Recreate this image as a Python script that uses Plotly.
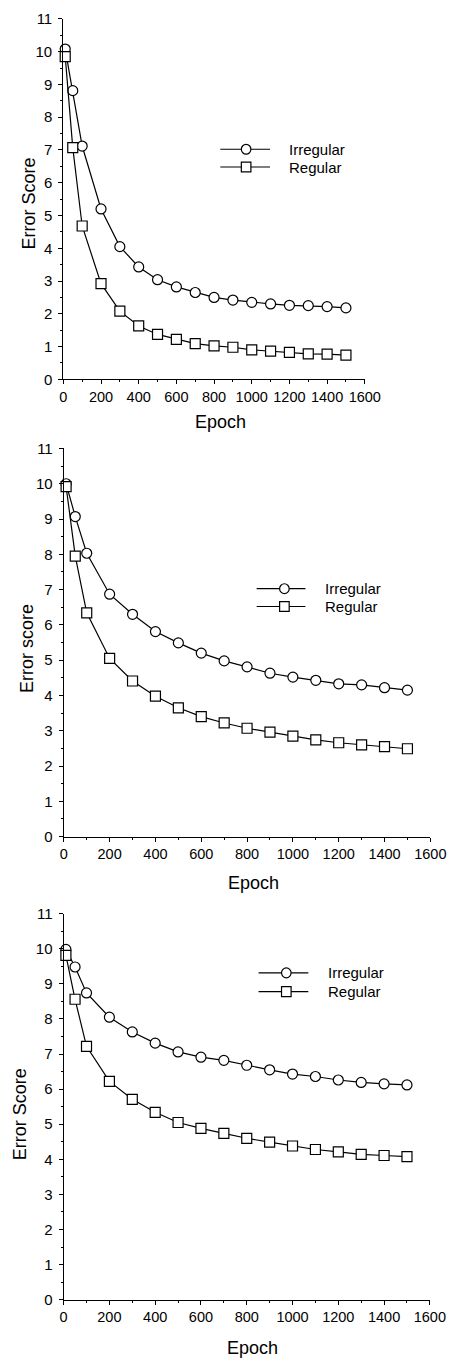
import plotly.graph_objects as go

epochs = [10, 50, 100, 200, 300, 400, 500, 600, 700, 800, 900, 1000, 1100, 1200, 1300, 1400, 1500]

p1_irregular = [10.08, 8.81, 7.12, 5.2, 4.05, 3.43, 3.04, 2.82, 2.65, 2.5, 2.42, 2.35, 2.3, 2.26, 2.25, 2.22, 2.18]
p1_regular = [9.85, 7.07, 4.68, 2.92, 2.08, 1.63, 1.37, 1.22, 1.09, 1.02, 0.98, 0.9, 0.86, 0.82, 0.78, 0.77, 0.74]

p2_irregular = [10.0, 9.07, 8.03, 6.87, 6.3, 5.81, 5.49, 5.2, 4.98, 4.81, 4.63, 4.52, 4.43, 4.33, 4.3, 4.22, 4.15]
p2_regular = [9.92, 7.95, 6.34, 5.05, 4.41, 3.98, 3.65, 3.4, 3.22, 3.07, 2.96, 2.85, 2.74, 2.66, 2.6, 2.55, 2.49]

p3_irregular = [9.98, 9.48, 8.74, 8.05, 7.63, 7.31, 7.06, 6.91, 6.82, 6.68, 6.55, 6.43, 6.36, 6.26, 6.19, 6.15, 6.12]
p3_regular = [9.81, 8.56, 7.22, 6.22, 5.71, 5.34, 5.05, 4.88, 4.74, 4.6, 4.49, 4.38, 4.28, 4.21, 4.14, 4.11, 4.08]

y_titles = ["Error Score", "Error score", "Error Score"]
x_title = "Epoch"
series_names = ["Irregular", "Regular"]

W, H = 465, 1368
FONT = "Liberation Sans, Arial, Helvetica, sans-serif"

panels = [
    dict(irr=p1_irregular, reg=p1_regular, x0=62, x1=377, top=10, bot=375,
         ytitle_xy=(26, 197), xtitle_xy=(226, 418),
         leg=dict(lx0=226, lx1=278, mx=253, tx=296, r1=142, r2=160)),
    dict(irr=p2_irregular, reg=p2_regular, x0=62.5, x1=445.5, top=445, bot=838,
         ytitle_xy=(24, 647), xtitle_xy=(261, 885),
         leg=dict(lx0=264, lx1=315, mx=293, tx=333, r1=587, r2=605)),
    dict(irr=p3_irregular, reg=p3_regular, x0=62.3, x1=445, top=916, bot=1307,
         ytitle_xy=(17, 1119), xtitle_xy=(260, 1356),
         leg=dict(lx0=266, lx1=318, mx=295, tx=336, r1=976, r2=995)),
]

fig = go.Figure()
shapes = []
annotations = []

def px(x):
    return x / W

def py(y):
    return 1 - y / H

for i, p in enumerate(panels):
    n = "" if i == 0 else str(i + 1)
    xa, ya = "x" + n, "y" + n
    for name, vals, sym in [(series_names[0], p["irr"], "circle"), (series_names[1], p["reg"], "square")]:
        fig.add_trace(go.Scatter(
            x=epochs, y=vals, mode="lines+markers", name=name, showlegend=False,
            xaxis=xa, yaxis=ya, cliponaxis=False,
            line=dict(color="black", width=1.2),
            marker=dict(symbol=sym, size=10, color="white", line=dict(color="black", width=1.2)),
        ))
    common = dict(showgrid=False, zeroline=False, showline=True, linecolor="black", linewidth=1.2,
                  ticks="outside", tickcolor="black", ticklen=4, tickwidth=1)
    fig.update_layout(**{
        "xaxis" + n: dict(common, domain=[px(p["x0"]), px(p["x1"])], range=[0, 1600],
                          dtick=200, tick0=0, anchor=ya,
                          tickfont=dict(family=FONT, size=14.5, color="black"),
                          minor=dict(dtick=100, ticklen=2, ticks="outside", tickcolor="black")),
        "yaxis" + n: dict(common, domain=[py(p["bot"]), py(p["top"])], range=[0, 11],
                          dtick=1, tick0=0, anchor=xa, ticklabelstandoff=3,
                          tickfont=dict(family=FONT, size=15, color="black"),
                          minor=dict(dtick=0.5, ticklen=2, ticks="outside", tickcolor="black")),
    })
    # axis titles
    annotations.append(dict(x=px(p["ytitle_xy"][0]), y=py(p["ytitle_xy"][1]), xref="paper", yref="paper",
                            text=y_titles[i], showarrow=False, textangle=-90,
                            font=dict(family=FONT, size=18, color="black"),
                            xanchor="center", yanchor="middle"))
    annotations.append(dict(x=px(p["xtitle_xy"][0]), y=py(p["xtitle_xy"][1]), xref="paper", yref="paper",
                            text=x_title, showarrow=False,
                            font=dict(family=FONT, size=18, color="black"),
                            xanchor="center", yanchor="middle"))
    # legend
    L = p["leg"]
    for row, kind, label in [(L["r1"], "circle", series_names[0]), (L["r2"], "rect", series_names[1])]:
        shapes.append(dict(type="line", xref="paper", yref="paper",
                           x0=px(L["lx0"]), x1=px(L["lx1"]), y0=py(row), y1=py(row),
                           line=dict(color="black", width=1.2)))
        r = 5
        shapes.append(dict(type=kind, xref="paper", yref="paper",
                           x0=px(L["mx"] - r), x1=px(L["mx"] + r), y0=py(row + r), y1=py(row - r),
                           fillcolor="white", line=dict(color="black", width=1.2)))
        annotations.append(dict(x=px(L["tx"]), y=py(row), xref="paper", yref="paper",
                                text=label, showarrow=False, xanchor="left", yanchor="middle",
                                font=dict(family=FONT, size=15, color="black")))

fig.update_layout(width=W, height=H, margin=dict(l=0, r=0, t=0, b=0),
                  paper_bgcolor="white", plot_bgcolor="white",
                  shapes=shapes, annotations=annotations, showlegend=False)

fig.write_html("out.html")
